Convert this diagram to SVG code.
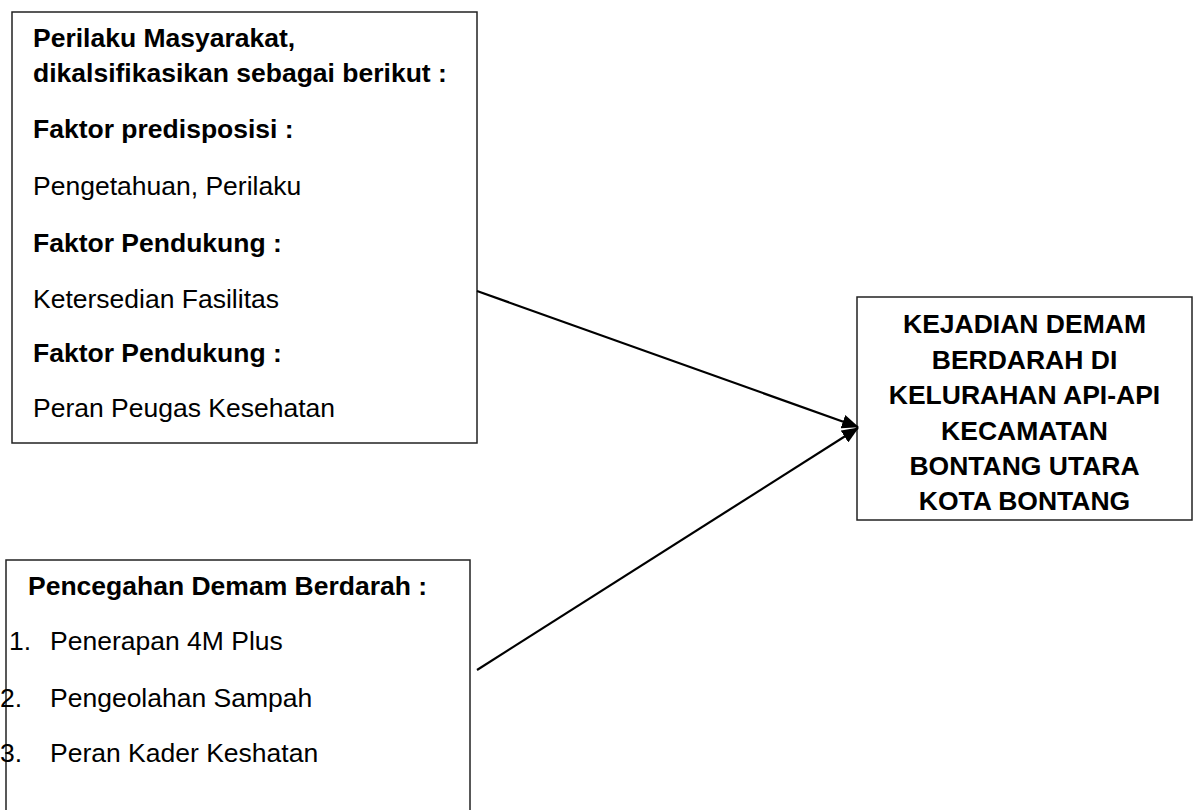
<svg xmlns="http://www.w3.org/2000/svg" width="1198" height="810" viewBox="0 0 1198 810">
<defs>
<style>
.box{fill:#fff;stroke:#222;stroke-width:1.5}
.t{font-family:"Liberation Sans",Arial,sans-serif;font-size:26.5px;fill:#000}
.b{font-weight:bold}
.c{text-anchor:middle}
.edge{stroke:#000;stroke-width:2.2;fill:none;marker-end:url(#arr)}
</style>
<marker id="arr" viewBox="0 0 17 14" refX="16" refY="7" markerWidth="17" markerHeight="14" markerUnits="userSpaceOnUse" orient="auto">
<path d="M0,0 L17,7 L0,14 z" fill="#000"/>
</marker>
</defs>
<rect width="1198" height="810" fill="#fff"/>
<g id="node-perilaku">
<rect class="box" x="12" y="12" width="465" height="431"/>
<text class="t b" x="33" y="47">Perilaku Masyarakat,</text>
<text class="t b" x="33" y="82">dikalsifikasikan sebagai berikut :</text>
<text class="t b" x="33" y="138">Faktor predisposisi :</text>
<text class="t" x="33" y="195">Pengetahuan, Perilaku</text>
<text class="t b" x="33" y="252">Faktor Pendukung :</text>
<text class="t" x="33" y="308">Ketersedian Fasilitas</text>
<text class="t b" x="33" y="362">Faktor Pendukung :</text>
<text class="t" x="33" y="417">Peran Peugas Kesehatan</text>
</g>
<g id="node-pencegahan">
<rect class="box" x="6" y="560" width="464" height="270"/>
<text class="t b" x="28" y="595">Pencegahan Demam Berdarah :</text>
<text class="t" x="9" y="650">1.</text>
<text class="t" x="50" y="650">Penerapan 4M Plus</text>
<text class="t" x="0" y="707">2.</text>
<text class="t" x="50" y="707">Pengeolahan Sampah</text>
<text class="t" x="0" y="762">3.</text>
<text class="t" x="50" y="762">Peran Kader Keshatan</text>
</g>
<g id="node-kejadian">
<rect class="box" x="857" y="297" width="335" height="223"/>
<text class="t b c" x="1024.5" y="333">KEJADIAN DEMAM</text>
<text class="t b c" x="1024.5" y="369">BERDARAH DI</text>
<text class="t b c" x="1024.5" y="404">KELURAHAN API-API</text>
<text class="t b c" x="1024.5" y="440">KECAMATAN</text>
<text class="t b c" x="1024.5" y="475">BONTANG UTARA</text>
<text class="t b c" x="1024.5" y="510">KOTA BONTANG</text>
</g>
<g id="connectors">
<line class="edge" x1="477" y1="291" x2="858" y2="427"/>
<line class="edge" x1="477" y1="670" x2="858" y2="428"/>
</g>
</svg>
